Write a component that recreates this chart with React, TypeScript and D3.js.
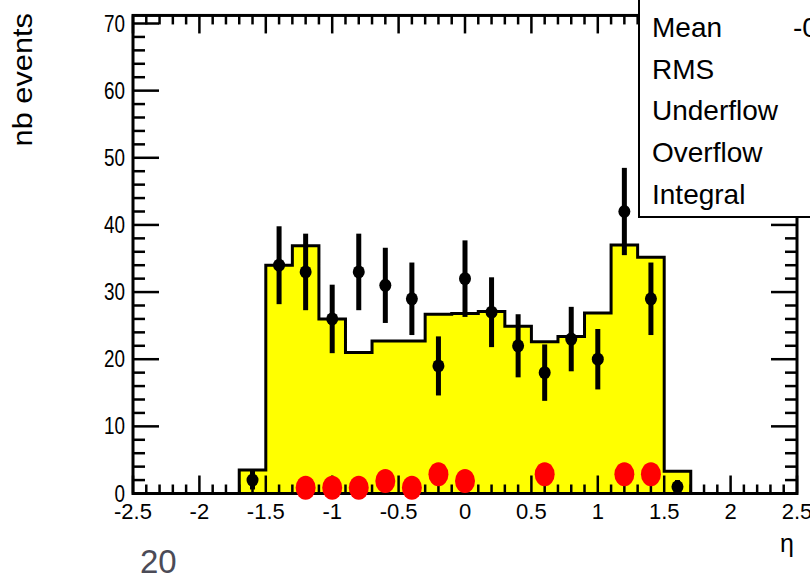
import React from "react";
import * as d3 from "d3";

const binLow = [-1.7, -1.5, -1.3, -1.1, -0.9, -0.7, -0.5, -0.3, -0.1, 0.1, 0.3, 0.5, 0.7, 0.9, 1.1, 1.3, 1.5];
const binWidth = 0.2;
const histValues = [3.5, 34.0, 36.9, 26.0, 21.0, 22.7, 22.7, 26.7, 26.8, 27.1, 24.9, 22.6, 23.4, 26.9, 37.0, 35.2, 3.3];

const dataX = [-1.6, -1.4, -1.2, -1.0, -0.8, -0.6, -0.4, -0.2, 0, 0.2, 0.4, 0.6, 0.8, 1.0, 1.2, 1.4, 1.6];
const dataY = [2, 34, 33, 26, 33, 31, 29, 19, 32, 27, 22, 18, 23, 20, 42, 29, 1];
const dataErr = [1.4, 5.8, 5.7, 5.1, 5.7, 5.6, 5.4, 4.4, 5.7, 5.2, 4.7, 4.2, 4.8, 4.5, 6.5, 5.4, 1.0];

const redX = [-1.2, -1.0, -0.8, -0.6, -0.4, -0.2, 0, 0.6, 1.2, 1.4];
const redY = [1, 1, 1, 2, 1, 3, 2, 3, 3, 3];

const xTickLabels = ["-2.5", "-2", "-1.5", "-1", "-0.5", "0", "0.5", "1", "1.5", "2", "2.5"];
const yTickLabels = ["0", "10", "20", "30", "40", "50", "60", "70"];
const statsLabels = ["Mean", "RMS", "Underflow", "Overflow", "Integral"];
const statsMeanValue = "-0.02";

const W = 810;
const H = 578;
const FONT = "Liberation Sans, Arial, Helvetica, sans-serif";

export default function App() {
  const x = d3.scaleLinear().domain([-2.5, 2.5]).range([133, 797]);
  const y = d3.scaleLinear().domain([0, 70]).range([493.5, 23.5]);
  const yTop = y(71.2);
  const y0 = y(0);
  const xL = x(-2.5);
  const xR = x(2.5);

  let d = `M${x(binLow[0])},${y0}`;
  binLow.forEach((lo, i) => {
    d += `L${x(lo)},${y(histValues[i])}L${x(lo + binWidth)},${y(histValues[i])}`;
  });
  d += `L${x(binLow[binLow.length - 1] + binWidth)},${y0}Z`;

  const xMinor = d3.range(-2.5, 2.5001, 0.1).map((v) => Math.round(v * 10) / 10);
  const yMinor = d3.range(0, 71, 2);

  return (
    <svg width={W} height={H} style={{ position: "absolute", left: 0, top: 0, background: "#fff" }} fontFamily={FONT}>
      <rect x={0} y={0} width={W} height={H} fill="#fff" />
      <path d={d} fill="#ffff00" stroke="#000" strokeWidth={3} strokeLinejoin="miter" />

      {dataX.map((vx, i) => (
        <g key={"p" + i}>
          <line x1={x(vx)} x2={x(vx)} y1={y(dataY[i] - dataErr[i])} y2={y(dataY[i] + dataErr[i])} stroke="#000" strokeWidth={5} />
          <ellipse cx={x(vx)} cy={y(dataY[i])} rx={6} ry={6.5} fill="#000" />
        </g>
      ))}

      <rect x={xL} y={yTop} width={xR - xL} height={y0 - yTop} fill="none" stroke="#000" strokeWidth={3} />
      {xMinor.map((v, i) => {
        const major = Math.abs(v * 2 - Math.round(v * 2)) < 1e-6;
        const len = major ? 18 : 9;
        return (
          <g key={"xt" + i}>
            <line x1={x(v)} x2={x(v)} y1={y0} y2={y0 - len} stroke="#000" strokeWidth={2.5} />
            <line x1={x(v)} x2={x(v)} y1={yTop} y2={yTop + len} stroke="#000" strokeWidth={2.5} />
          </g>
        );
      })}
      {yMinor.map((v, i) => {
        const major = v % 10 === 0;
        const len = major ? 26 : 12;
        return (
          <g key={"yt" + i}>
            <line x1={xL} x2={xL + len} y1={y(v)} y2={y(v)} stroke="#000" strokeWidth={2.5} />
            <line x1={xR} x2={xR - len} y1={y(v)} y2={y(v)} stroke="#000" strokeWidth={2.5} />
          </g>
        );
      })}

      {redX.map((vx, i) => (
        <ellipse key={"r" + i} cx={x(vx)} cy={y(redY[i]) + 1} rx={10} ry={12} fill="#ff0000" />
      ))}

      {xTickLabels.map((t, i) => (
        <text key={"xl" + i} x={x(+t)} y={519} textAnchor="middle" fontSize={22} fill="#000">
          {t}
        </text>
      ))}
      {yTickLabels.map((t, i) => (
        <text
          key={"yl" + i}
          transform={`translate(125,${y(+t) + 8}) scale(0.82,1)`}
          textAnchor="end"
          fontSize={23}
          fill="#000"
        >
          {t}
        </text>
      ))}

      <text x={0} y={0} transform={`translate(32,13) rotate(-90) scale(1.14,1)`} textAnchor="end" fontSize={27} fill="#000">
        nb events
      </text>
      <text x={787} y={552} textAnchor="middle" fontSize={25} fill="#000">
        η
      </text>

      <rect x={639} y={-5} width={200} height={222} fill="#fff" stroke="#000" strokeWidth={2} />
      {statsLabels.map((s, i) => (
        <text key={"s" + i} x={652} y={37 + i * 41.7} fontSize={28} fill="#000">
          {s}
        </text>
      ))}
      <text x={793} y={37} fontSize={28} fill="#000">
        {statsMeanValue}
      </text>

      <text x={140} y={573} fontSize={33} fill="#4b4b57">
        20
      </text>
    </svg>
  );
}
